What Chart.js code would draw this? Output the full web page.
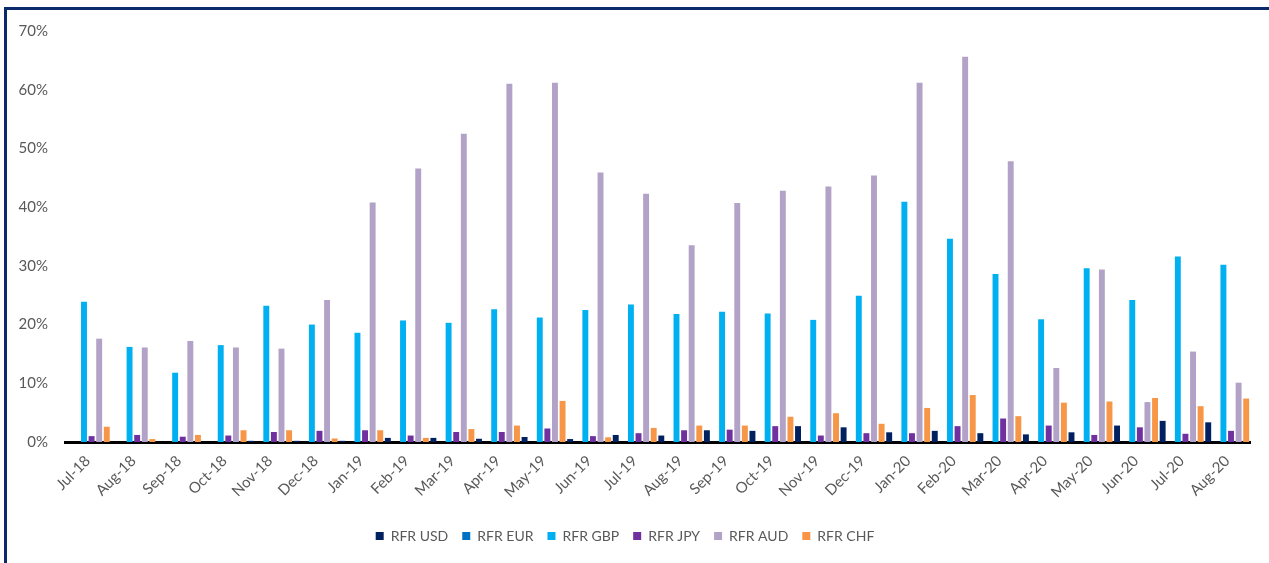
<!DOCTYPE html>
<html><head><meta charset="utf-8">
<script src="https://cdn.jsdelivr.net/npm/chart.js@4"></script>
<style>
html,body{margin:0;padding:0;width:1269px;height:563px;overflow:hidden;background:#fff;}
#frame{position:absolute;left:4px;top:7px;width:1400px;height:700px;border:3px solid #0b2a6b;box-sizing:border-box;}
#wrap{position:absolute;left:0;top:0;width:1269px;height:563px;}
</style></head><body>
<div id="frame"></div>
<div id="wrap"><canvas id="c"></canvas></div>
<script>
const categories = ['Jul-18','Aug-18','Sep-18','Oct-18','Nov-18','Dec-18','Jan-19','Feb-19','Mar-19','Apr-19','May-19','Jun-19','Jul-19','Aug-19','Sep-19','Oct-19','Nov-19','Dec-19','Jan-20','Feb-20','Mar-20','Apr-20','May-20','Jun-20','Jul-20','Aug-20'];
const rfrUSD = [0,0,0,0,0.2,0.2,0.2,0.7,0.7,0.55,0.85,0.5,1.2,1.1,2.0,1.9,2.7,2.5,1.65,1.9,1.5,1.3,1.65,2.8,3.6,3.35];
const rfrEUR = [0,0,0,0,0,0,0,0,0,0,0,0,0,0,0,0,0,0,0,0,0,0,0,0,0,0];
const rfrGBP = [23.9,16.2,11.8,16.5,23.2,20.0,18.6,20.7,20.3,22.6,21.2,22.5,23.4,21.8,22.2,21.9,20.8,24.9,40.9,34.6,28.6,20.9,29.6,24.2,31.6,30.2];
const rfrJPY = [1.0,1.2,0.9,1.1,1.7,1.9,2.0,1.1,1.7,1.7,2.3,1.0,1.5,2.0,2.1,2.7,1.1,1.5,1.5,2.7,4.0,2.8,1.2,2.5,1.4,1.9];
const rfrAUD = [17.6,16.1,17.2,16.1,15.9,24.2,40.8,46.6,52.5,61.0,61.2,45.9,42.3,33.5,40.7,42.8,43.5,45.4,61.2,65.6,47.8,12.6,29.4,6.8,15.4,10.1];
const rfrCHF = [2.6,0.5,1.2,2.0,2.0,0.6,2.0,0.7,2.2,2.8,7.0,0.8,2.4,2.8,2.8,4.3,4.9,3.1,5.8,8.0,4.4,6.7,6.9,7.5,6.1,7.4];
const seriesNames = ['RFR USD','RFR EUR','RFR GBP','RFR JPY','RFR AUD','RFR CHF'];
const seriesColors = ['#002060','#0070C0','#00B0F0','#7030A0','#B3A2C7','#F79646'];
const yTickMax = 70, yTickStep = 10;

const allSeries = [rfrUSD, rfrEUR, rfrGBP, rfrJPY, rfrAUD, rfrCHF];
const datasets = allSeries.map((d, i) => ({
  label: seriesNames[i],
  data: d,
  backgroundColor: seriesColors[i],
  borderWidth: 0,
  barPercentage: 0.78,
  categoryPercentage: 1.0
}));

new Chart(document.getElementById('c'), {
  type: 'bar',
  data: { labels: categories, datasets },
  options: {
    responsive: true,
    maintainAspectRatio: false,
    animation: false,
    layout: { padding: { top: 31, left: 0, right: 19, bottom: 10 } },
    plugins: {
      tooltip: { enabled: false },
      legend: {
        position: 'bottom',
        labels: {
          boxWidth: 8, boxHeight: 8, padding: 14,
          color: '#595959',
          font: { family: 'Lato', size: 14 }
        }
      }
    },
    scales: {
      x: {
        grid: { display: false, drawTicks: false },
        border: { display: true, color: '#000000', width: 3 },
        ticks: {
          autoSkip: false, minRotation: 45, maxRotation: 45, padding: 10,
          color: '#595959', font: { family: 'Lato', size: 15 }
        },
        afterFit: s => { s.height = 73; }
      },
      y: {
        min: 0, max: yTickMax,
        grid: { display: false, drawTicks: false },
        border: { display: false },
        ticks: {
          stepSize: yTickStep, padding: 17,
          color: '#595959', font: { family: 'Lato', size: 15 },
          callback: v => v + '%'
        },
        afterFit: s => { s.width = 65; }
      }
    }
  }
});
</script></body></html>
